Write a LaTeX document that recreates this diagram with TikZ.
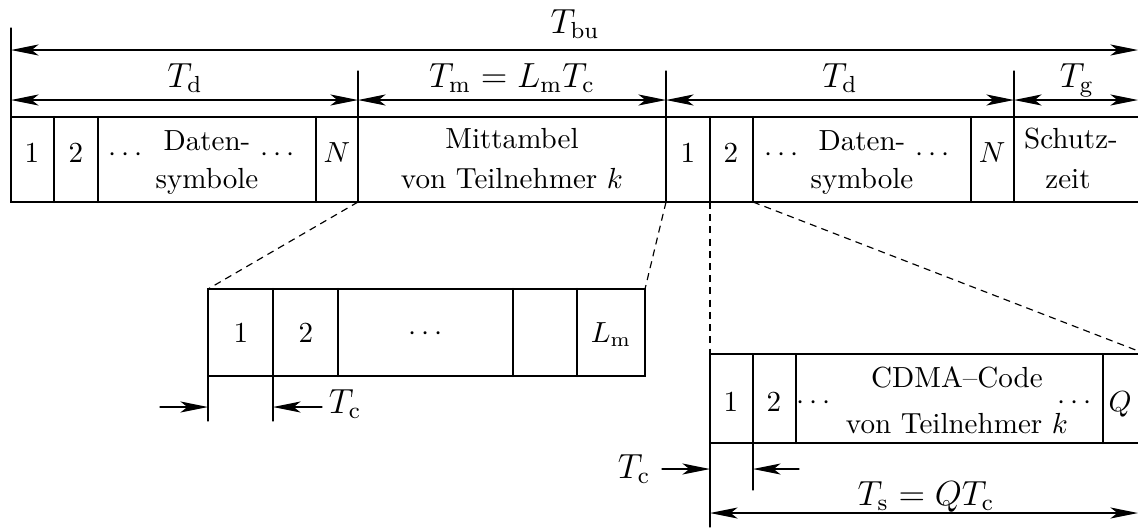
\documentclass[tikz,border=0pt]{standalone}
\usepackage{amsmath}
\usetikzlibrary{arrows.meta}

\begin{document}
\begin{tikzpicture}[x=0.344pt,y=-0.344pt,>={Stealth[length=9.5pt,width=3.8pt,inset=2.4pt]},line cap=round,
  box/.style={line width=0.7pt},
  dim/.style={line width=0.4pt},
  lab/.style={font=\large,anchor=base,inner sep=0pt},
  txt/.style={anchor=base,inner sep=0pt},
  zoomline/.style={line width=0.4pt,line cap=butt,dash pattern=on 2.4pt off 1.8pt}]
\useasboundingbox (0,0) rectangle (1138,527);
% Burst
\draw[box] (1138,117) -- (11,117) -- (11,202) -- (1138,202);
\foreach \x in {54,98,316,358,666,710,753,971,1014}
  \draw[box] (\x,117) -- (\x,202);
\coordinate (mst) at (358,202);
\coordinate (men) at (666,202);
\coordinate (done) at (710,202);
\coordinate (dtwo) at (753,202);
% Zeitmarken
\draw[dim] (11,28) -- (11,117);
\foreach \x in {358,666,1014}
  \draw[dim] (\x,71) -- (\x,117);
\draw[dim,<->] (11,50) -- (1138,50);
\draw[dim,<->] (11,100) -- (358,100);
\draw[dim,<->] (358,100) -- (666,100);
\draw[dim,<->] (666,100) -- (1014,100);
\draw[dim,<->] (1014,100) -- (1138,100);
\node[lab] (tbu) at (575,33) {$T_{\mathrm{bu}}$};
\node[lab] (tda) at (185,87) {$T_{\mathrm{d}}$};
\node[lab] (tm) at (512,87) {$T_{\mathrm{m}}=L_{\mathrm{m}}T_{\mathrm{c}}$};
\node[lab] (tdb) at (840,87) {$T_{\mathrm{d}}$};
\node[lab] (tg) at (1077,87) {$T_{\mathrm{g}}$};
% Inhalt
\node[txt] (a1) at (32,162) {1};
\node[txt] (a2) at (76,162) {2};
\node[txt] (adl) at (128,161) {$\cdots$};
\node[txt] (adat) at (207,150) {Daten-};
\node[txt] (asym) at (207,188) {symbole};
\node[txt] (adr) at (280,161) {$\cdots$};
\node[txt] (an) at (337,162) {$N$};
\node[txt] (mit) at (512,148) {Mittambel};
\node[txt] (mvon) at (512,188) {von Teilnehmer $k$};
\node[txt] (b1) at (688,162) {1};
\node[txt] (b2) at (731,162) {2};
\node[txt] (bdl) at (784,161) {$\cdots$};
\node[txt] (bdat) at (862,150) {Daten-};
\node[txt] (bsym) at (862,188) {symbole};
\node[txt] (bdr) at (935,161) {$\cdots$};
\node[txt] (bn) at (992,162) {$N$};
\node[txt] (schutz) at (1071,148) {Schutz-};
\node[txt] (zeit) at (1068,188) {zeit};
% Mittambel-Chips
\draw[box] (208,289) rectangle (645,376);
\foreach \x in {273,338,513,577}
  \draw[box] (\x,289) -- (\x,376);
\coordinate (mnw) at (208,289);
\coordinate (mne) at (645,289);
\node[txt] (m1) at (241,342) {1};
\node[txt] (m2) at (306,342) {2};
\node[txt] (mdots) at (428,340) {$\cdots$};
\node[txt] (mlm) at (611,342) {$L_{\mathrm{m}}$};
\draw[dim] (208,376) -- (208,421);
\draw[dim] (273,376) -- (273,421);
\coordinate (mca) at (160,407);
\coordinate (mcb) at (208,407);
\coordinate (mcc) at (322,407);
\coordinate (mcd) at (273,407);
\draw[dim,->] (mca) -- (mcb);
\draw[dim,->] (mcc) -- (mcd);
\node[lab] (mtc) at (345,413) {$T_{\mathrm{c}}$};
% CDMA-Chips
\draw[box] (1146,354) -- (710,354) -- (710,443) -- (1146,443);
\foreach \x in {753,796,1103}
  \draw[box] (\x,354) -- (\x,443);
\coordinate (cnw) at (710,354);
\coordinate (cne) at (1146,354);
\node[txt] (c1) at (731,411) {1};
\node[txt] (c2) at (774,411) {2};
\node[txt] (cdl) at (816,409) {$\cdots$};
\node[txt] (ccode) at (957,387) {CDMA--Code};
\node[txt] (cvon) at (957,433) {von Teilnehmer $k$};
\node[txt] (cdr) at (1077,409) {$\cdots$};
\node[txt] (cq) at (1120,411) {$Q$};
\draw[dim] (710,443) -- (710,527);
\draw[dim] (753,443) -- (753,490);
\coordinate (cca) at (662,469);
\coordinate (ccb) at (710,469);
\coordinate (ccc) at (799,469);
\coordinate (ccd) at (753,469);
\draw[dim,->] (cca) -- (ccb);
\draw[dim,->] (ccc) -- (ccd);
\node[lab] (ctc) at (634,478) {$T_{\mathrm{c}}$};
\draw[dim,<->] (710,513) -- (1138,513);
\node[lab] (cts) at (926,505) {$T_{\mathrm{s}}=QT_{\mathrm{c}}$};
% Vergroesserung
\draw[zoomline] (mst) -- (mnw);
\draw[zoomline] (men) -- (mne);
\draw[zoomline] (done) -- (cnw);
\draw[zoomline] (dtwo) -- (cne);
\end{tikzpicture}
\end{document}
